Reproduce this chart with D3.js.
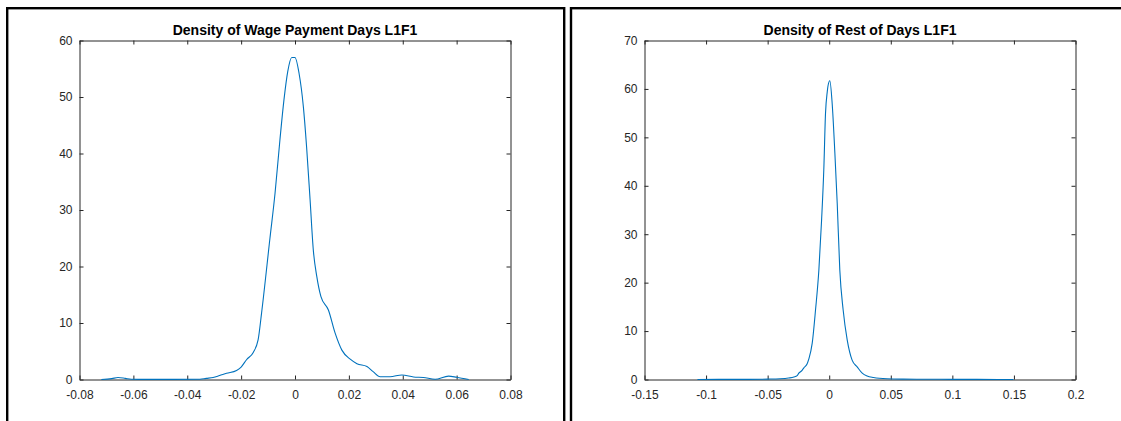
<!DOCTYPE html>
<html>
<head>
<meta charset="utf-8">
<script src="https://cdn.jsdelivr.net/npm/d3@7"></script>
<style>
  html, body { margin: 0; padding: 0; background: #fff; }
  svg { display: block; }
  .tick text { font-family: "Liberation Sans", Arial, Helvetica, sans-serif; font-size: 12px; fill: #262626; }
  .title { font-family: "Liberation Sans", Arial, Helvetica, sans-serif; font-size: 14px; font-weight: bold; fill: #000; }
</style>
</head>
<body>
<svg id="fig" width="1121" height="421"></svg>
<script>
// Kernel density estimate of wage-payment-day returns
const wageX = [-0.0719, -0.068, -0.0657, -0.063, -0.0608, -0.055, -0.045, -0.0353, -0.033, -0.0304,
  -0.028, -0.0254, -0.0217, -0.020, -0.018, -0.0155, -0.0137, -0.0124, -0.0093,
  -0.0074, -0.0056, -0.0041, -0.0027, -0.0012, 0.0000, 0.0015, 0.0031, 0.0043, 0.0056,
  0.0068, 0.0081, 0.0096, 0.0124, 0.0149, 0.0174, 0.0205, 0.023, 0.0267, 0.029,
  0.0316, 0.0353, 0.0397, 0.044, 0.0477, 0.052, 0.057, 0.060, 0.0645];
const wageDensity = [0, 0.15, 0.35, 0.2, 0.05, 0.02, 0.02, 0.05, 0.2, 0.35,
  0.7, 1.1, 1.6, 2.2, 3.5, 4.8, 7.0, 11.8, 25.0,
  33.0, 42.4, 49.5, 54.5, 57.0, 57.0, 54.2, 48.3, 41.2, 31.8,
  22.9, 18.2, 14.7, 12.3, 8.2, 5.2, 3.6, 2.8, 2.3, 1.4,
  0.5, 0.5, 0.8, 0.45, 0.35, 0.05, 0.6, 0.4, 0];

// Kernel density estimate of the remaining days
const restX = [-0.107, -0.09, -0.07, -0.05, -0.04, -0.033, -0.0287, -0.026, -0.0247, -0.022,
  -0.0206, -0.018, -0.0166, -0.0138, -0.0111, -0.0084, -0.0062, -0.0044, -0.003, -0.0016,
  -0.001, 0.0005, 0.0024, 0.0046, 0.0065, 0.0086, 0.0113, 0.0146, 0.0186, 0.0227,
  0.0268, 0.0308, 0.036, 0.047, 0.06, 0.08, 0.10, 0.12, 0.1496];
const restDensity = [0, 0.02, 0.03, 0.08, 0.15, 0.3, 0.5, 0.8, 1.3, 1.9,
  2.4, 3.2, 4.2, 7.5, 14.4, 22.6, 32.9, 43.3, 55.0, 59.4,
  60.6, 61.7, 57.0, 46.7, 36.4, 22.6, 14.4, 8.2, 4.0, 2.6,
  1.3, 0.7, 0.4, 0.15, 0.08, 0.05, 0.03, 0.02, 0];

const wageXTicks = [-0.08, -0.06, -0.04, -0.02, 0, 0.02, 0.04, 0.06, 0.08];
const wageYTicks = [0, 10, 20, 30, 40, 50, 60];
const restXTicks = [-0.15, -0.1, -0.05, 0, 0.05, 0.1, 0.15, 0.2];
const restYTicks = [0, 10, 20, 30, 40, 50, 60, 70];

const titles = ["Density of Wage Payment Days L1F1", "Density of Rest of Days L1F1"];

const svg = d3.select("#fig");

// Panel frames
svg.append("rect").attr("x", 7.2).attr("y", 8.2).attr("width", 557).attr("height", 500)
  .attr("fill", "none").attr("stroke", "#000").attr("stroke-width", 2.4);
svg.append("rect").attr("x", 571).attr("y", 8.2).attr("width", 600).attr("height", 500)
  .attr("fill", "none").attr("stroke", "#000").attr("stroke-width", 2.4);

const fmt = d => (d === 0 ? "0" : String(+d.toFixed(2)));

function panel(opts) {
  const { left, right, top, bottom, xDomain, yDomain, xTicks, yTicks, xs, ys, title } = opts;
  const x = d3.scaleLinear().domain(xDomain).range([left, right]);
  const y = d3.scaleLinear().domain(yDomain).range([bottom, top]);
  const g = svg.append("g");
  const tl = 4;

  const styleAxis = sel => {
    sel.selectAll("path.domain").attr("stroke", "#262626").attr("stroke-width", 1);
    sel.selectAll(".tick line").attr("stroke", "#262626").attr("stroke-width", 1);
  };

  g.append("g").attr("transform", `translate(0,${bottom})`)
    .call(d3.axisBottom(x).tickValues(xTicks).tickFormat(fmt).tickSizeInner(-tl).tickSizeOuter(0).tickPadding(11))
    .call(styleAxis);
  g.append("g").attr("transform", `translate(0,${top})`)
    .call(d3.axisTop(x).tickValues(xTicks).tickFormat("").tickSizeInner(-tl).tickSizeOuter(0))
    .call(styleAxis);
  g.append("g").attr("transform", `translate(${left},0)`)
    .call(d3.axisLeft(y).tickValues(yTicks).tickFormat(fmt).tickSizeInner(-tl).tickSizeOuter(0).tickPadding(7))
    .call(styleAxis);
  g.append("g").attr("transform", `translate(${right},0)`)
    .call(d3.axisRight(y).tickValues(yTicks).tickFormat("").tickSizeInner(-tl).tickSizeOuter(0))
    .call(styleAxis);
  g.selectAll(".tick text").attr("fill", "#262626");

  const pts = xs.map((v, i) => [v, ys[i]]);
  g.append("path").datum(pts)
    .attr("fill", "none").attr("stroke", "#0072BD").attr("stroke-width", 1.1)
    .attr("d", d3.line().x(d => x(d[0])).y(d => y(d[1])).curve(d3.curveMonotoneX));

  g.append("text").attr("class", "title")
    .attr("x", (left + right) / 2).attr("y", 35).attr("text-anchor", "middle")
    .text(title);
}

panel({ left: 79.5, right: 510.5, top: 40.5, bottom: 379.5,
  xDomain: [-0.08, 0.08], yDomain: [0, 60], xTicks: wageXTicks, yTicks: wageYTicks,
  xs: wageX, ys: wageDensity, title: titles[0] });

panel({ left: 644.5, right: 1075.5, top: 40.5, bottom: 379.5,
  xDomain: [-0.15, 0.2], yDomain: [0, 70], xTicks: restXTicks, yTicks: restYTicks,
  xs: restX, ys: restDensity, title: titles[1] });
</script>
</body>
</html>
